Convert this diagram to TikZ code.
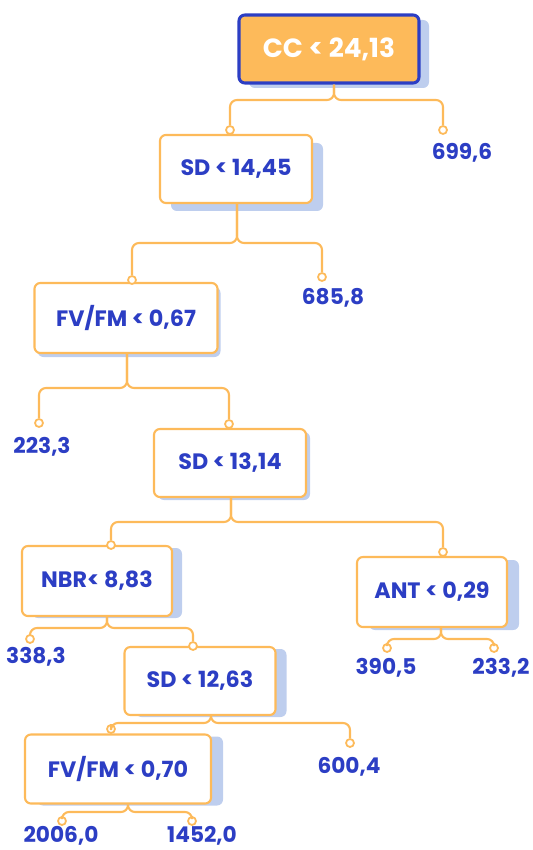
\documentclass[tikz,border=0pt]{standalone}
\usepackage{fontspec}
\setmainfont{Poppins}
\usetikzlibrary{shadows}
\definecolor{treeorange}{RGB}{253,186,90}
\definecolor{treeblue}{RGB}{44,62,196}
\definecolor{shadowblue}{RGB}{190,206,238}
\tikzset{
  sz/.style 2 args={minimum width=#1*0.03cm, minimum height=#2*0.03cm},
  shd/.style 2 args={drop shadow={shadow xshift=#1*0.03cm, shadow yshift=-#2*0.03cm, fill=shadowblue, opacity=1}},
  box/.style={shape=rectangle, rounded corners=5pt, draw=treeorange, line width=1.8pt, fill=white,
    text=treeblue, inner sep=0pt, font=\bfseries\fontsize{19}{22}\selectfont},
  rootbox/.style={box, fill=treeorange, draw=treeblue, line width=2.6pt, text=white,
    font=\bfseries\fontsize{22.5}{26}\selectfont},
  dot/.style={shape=circle, draw=treeorange, fill=white, line width=1.5pt, inner sep=0pt, minimum size=8*0.03cm},
  val/.style={text=treeblue, inner sep=0pt, font=\bfseries\fontsize{18.5}{22}\selectfont},
  link/.style={draw=treeorange, line width=1.8pt, rounded corners=6pt}
}
\begin{document}
\begin{tikzpicture}[x=0.03cm, y=-0.03cm]
                \useasboundingbox (0,0) rectangle (532,850);

                \node[rootbox, sz={180}{68}, shd={10}{5}] (cc) at (329,49) {CC < 24,13};
                \node[box, sz={152}{68}, shd={11}{8}] (sd1) at (236,169) {SD < 14,45};
                \node[box, sz={183}{70}, shd={3}{4}] (fv1) at (126,318) {FV/FM < 0,67};
                \node[box, sz={152}{68}, shd={4}{3}] (sd2) at (230,463) {SD < 13,14};
                \node[box, sz={150}{70}, shd={10}{2}] (nbr) at (97,581) {NBR< 8,83};
                \node[box, sz={150}{70}, shd={12}{3}] (ant) at (432,592) {ANT < 0,29};
                \node[box, sz={151}{68}, shd={11}{2}] (sd3) at (200,681) {SD < 12,63};
                \node[box, sz={186}{69}, shd={12}{2}] (fv2) at (118,769) {FV/FM < 0,70};

                \node[dot] (d1a) at (230,130) {};
                \node[dot] (d1b) at (443,130) {};
                \node[dot] (d2a) at (132,280) {};
                \node[dot] (d2b) at (322,277) {};
                \node[dot] (d3a) at (39,423) {};
                \node[dot] (d3b) at (229,424) {};
                \node[dot] (d4a) at (111,545) {};
                \node[dot] (d4b) at (443,552) {};
                \node[dot] (d5a) at (30,639) {};
                \node[dot] (d5b) at (193,646) {};
                \node[dot] (d6a) at (387,648) {};
                \node[dot] (d6b) at (494,648) {};
                \node[dot] (d7a) at (111,729) {};
                \node[dot] (d7b) at (350,743) {};
                \node[dot] (d8a) at (62,821) {};
                \node[dot] (d8b) at (192,821) {};

                \node[val] (v1) at (462,153) {699,6};
                \node[val] (v2) at (333,298) {685,8};
                \node[val] (v3) at (42,447) {223,3};
                \node[val] (v4) at (36,657) {338,3};
                \node[val] (v5) at (386,668) {390,5};
                \node[val] (v6) at (501,668) {233,2};
                \node[val] (v7) at (349,767) {600,4};
                \node[val] (v8) at (61,836) {2006,0};
                \node[val] (v9) at (202,836) {1452,0};

                \coordinate (s1) at (334,100);
                \coordinate (s2) at (237,243);
                \coordinate (s3) at (127,388);
                \coordinate (s4) at (231,522);
                \coordinate (s5) at (107,628);
                \coordinate (s6) at (441,639);
                \coordinate (s7) at (211,723);
                \coordinate (s8) at (128,812);

                \draw[link] (cc.south -| s1) -- (s1) -| (d1a);
                \draw[link] (cc.south -| s1) -- (s1) -| (d1b);
                \draw[link] (sd1.south -| s2) -- (s2) -| (d2a);
                \draw[link] (sd1.south -| s2) -- (s2) -| (d2b);
                \draw[link] (fv1.south -| s3) -- (s3) -| (d3a);
                \draw[link] (fv1.south -| s3) -- (s3) -| (d3b);
                \draw[link] (sd2.south -| s4) -- (s4) -| (d4a);
                \draw[link] (sd2.south -| s4) -- (s4) -| (d4b);
                \draw[link] (nbr.south -| s5) -- (s5) -| (d5a);
                \draw[link] (nbr.south -| s5) -- (s5) -| (d5b);
                \draw[link] (ant.south -| s6) -- (s6) -| (d6a);
                \draw[link] (ant.south -| s6) -- (s6) -| (d6b);
                \draw[link] (sd3.south -| s7) -- (s7) -| (d7a);
                \draw[link] (sd3.south -| s7) -- (s7) -| (d7b);
                \draw[link] (fv2.south -| s8) -- (s8) -| (d8a);
                \draw[link] (fv2.south -| s8) -- (s8) -| (d8b);
            \end{tikzpicture}
\end{document}
